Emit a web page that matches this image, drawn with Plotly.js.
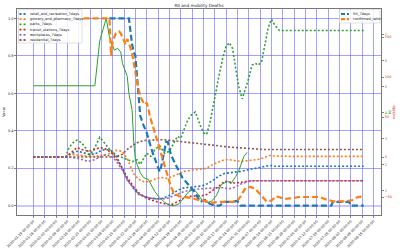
<!DOCTYPE html>
<html><head><meta charset="utf-8">
<script src="https://cdn.plot.ly/plotly-3.0.1.min.js"></script>
<style>html,body{margin:0;padding:0;background:#fff}#chart{width:400px;height:250px}</style>
</head><body><div id="chart"></div>
<script>
// ---------- data ----------
const mobilityDates = ['2020-01-19','2020-02-08','2020-02-11','2020-02-15','2020-02-18','2020-02-22','2020-02-26','2020-02-29','2020-03-03','2020-03-07','2020-03-10','2020-03-14','2020-03-17','2020-03-21','2020-03-24','2020-03-28','2020-03-31','2020-04-04','2020-04-07','2020-04-11','2020-04-14','2020-04-18','2020-04-21','2020-04-25','2020-04-28','2020-05-02','2020-05-05','2020-05-09','2020-05-12','2020-05-16','2020-05-19','2020-05-23','2020-05-26','2020-05-30','2020-06-02','2020-06-06','2020-06-09','2020-06-13','2020-06-16','2020-06-20','2020-06-27','2020-07-11','2020-07-25','2020-08-10'];
const retail = [0.26,0.26,0.275,0.29,0.285,0.275, 0.275,0.29,0.30,0.295,0.27,0.19, 0.14,0.09,0.06,0.048,0.04,0.037, 0.037,0.05,0.065,0.085,0.095,0.10, 0.102,0.105,0.115,0.135,0.155,0.172, 0.175,0.178,0.183,0.19,0.195,0.20, 0.205,0.215,0.21,0.21,0.21,0.21, 0.21,0.21];
const grocery = [0.26,0.26,0.275,0.27,0.265,0.263, 0.263,0.265,0.27,0.28,0.295,0.29, 0.25,0.17,0.14,0.125,0.13,0.145, 0.15,0.145,0.155,0.17,0.183,0.19, 0.192,0.195,0.20,0.22,0.232,0.245, 0.245,0.238,0.236,0.24,0.243,0.247, 0.255,0.268,0.265,0.263,0.263,0.263, 0.263,0.263];
const transit = [0.26,0.26,0.28,0.31,0.30,0.29, 0.30,0.31,0.305,0.285,0.255,0.20, 0.15,0.10,0.07,0.045,0.032,0.02, 0.014,0.006,0.008,0.025,0.04,0.05, 0.052,0.053,0.06,0.085,0.10,0.13, 0.125,0.12,0.125,0.13,0.133,0.133, 0.133,0.133,0.133,0.133,0.133,0.133, 0.133,0.133];
const workplaces = [0.26,0.26,0.258,0.254,0.245,0.236, 0.245,0.26,0.27,0.265,0.24,0.19, 0.135,0.09,0.062,0.048,0.04,0.036, 0.035,0.04,0.05,0.066,0.075,0.083, 0.088,0.09,0.092,0.094,0.096,0.095, 0.09,0.10,0.115,0.128,0.133,0.133, 0.133,0.133,0.133,0.133,0.133,0.133, 0.133,0.133];
const residential = [0.26,0.26,0.26,0.26,0.26,0.26, 0.26,0.26,0.26,0.26,0.26,0.275, 0.30,0.325,0.34,0.348,0.35,0.352, 0.352,0.35,0.347,0.343,0.34,0.335, 0.33,0.327,0.325,0.322,0.32,0.316, 0.313,0.31,0.308,0.305,0.303,0.302, 0.30,0.30,0.30,0.30,0.30,0.30, 0.30,0.30];

const parksDates = ['2020-01-19','2020-02-08','2020-02-10','2020-02-13','2020-02-15','2020-02-18','2020-02-21','2020-02-23','2020-02-26','2020-02-29','2020-03-03','2020-03-06','2020-03-09','2020-03-13','2020-03-17','2020-03-20','2020-03-23','2020-03-25','2020-03-27','2020-03-29','2020-04-01','2020-04-03','2020-04-06','2020-04-09','2020-04-12','2020-04-15','2020-04-17','2020-04-19','2020-04-21','2020-04-23','2020-04-25','2020-04-28','2020-05-01','2020-05-03','2020-05-05','2020-05-07','2020-05-09','2020-05-11','2020-05-13','2020-05-15','2020-05-17','2020-05-19','2020-05-21','2020-05-23','2020-05-25','2020-05-27','2020-05-29','2020-05-31','2020-06-02','2020-06-04','2020-06-06','2020-06-08','2020-06-10','2020-06-12','2020-06-14','2020-06-16','2020-06-19','2020-08-10'];
const parks = [0.26,0.26,0.31,0.34,0.35, 0.334,0.30,0.27,0.31,0.365, 0.334,0.30,0.27,0.26,0.245, 0.235,0.245,0.22,0.25,0.28, 0.26,0.30,0.32,0.28,0.29, 0.34,0.37,0.36,0.41,0.45, 0.48,0.50,0.43,0.39,0.38, 0.44,0.53,0.63,0.71,0.79, 0.85,0.87,0.84,0.73,0.63, 0.57,0.62,0.68,0.75,0.76, 0.75,0.77,0.86,0.95,0.995, 0.965,0.935,0.935];

const deathsDates = ['2020-01-19','2020-02-26','2020-02-29','2020-03-02','2020-03-04','2020-03-06','2020-03-08','2020-03-09','2020-03-11','2020-03-13','2020-03-14','2020-03-15','2020-03-17','2020-03-18','2020-03-20','2020-03-21','2020-03-22','2020-03-25','2020-03-27','2020-03-30','2020-04-01','2020-04-03','2020-04-06','2020-04-09','2020-04-12','2020-04-15','2020-04-18','2020-04-21','2020-04-24','2020-04-27','2020-04-29','2020-05-02','2020-05-05','2020-05-08','2020-05-11','2020-05-14','2020-05-18','2020-05-20','2020-05-23','2020-05-25','2020-05-28','2020-05-30'];
const deaths = [0.64,0.64,0.88,0.94,1.0,0.90,0.855,0.83,0.84,0.82, 0.76,0.735,0.69,0.60,0.51,0.34,0.245,0.176,0.15,0.14, 0.11,0.075,0.043,0.018,0.002,0.0,0.01,0.043,0.075,0.085, 0.07,0.03,0.016,0.023,0.053,0.112,0.13,0.117,0.156,0.19, 0.263,0.284];

const r0Dates = ['2020-03-06','2020-03-18','2020-03-20','2020-03-21','2020-03-22','2020-03-23','2020-03-24','2020-03-25','2020-03-27','2020-03-29','2020-04-01','2020-04-04','2020-04-06','2020-04-07','2020-04-10','2020-04-11','2020-04-13','2020-04-17','2020-04-20','2020-04-24','2020-04-28','2020-05-01','2020-05-04','2020-05-07','2020-05-10','2020-05-13','2020-05-16','2020-05-20','2020-05-24','2020-05-26','2020-07-21','2020-07-22','2020-08-01','2020-08-02','2020-08-10'];
const r0 = [1.0,1.0,0.86,0.82,0.80,0.70,0.58,0.48,0.43,0.39, 0.30,0.23,0.18,0.21,0.34,0.34,0.27,0.20,0.15,0.11, 0.068,0.02,0.03,0.01,0.0,0.0,0.02,0.02,0.025,0.0, 0.0,0.02,0.02,0.0,0.0];

const confirmedDates = ['2020-02-19','2020-03-06','2020-03-07','2020-03-08','2020-03-10','2020-03-12','2020-03-13','2020-03-15','2020-03-16','2020-03-17','2020-03-18','2020-03-20','2020-03-21','2020-03-22','2020-03-23','2020-03-24','2020-03-25','2020-03-26','2020-03-28','2020-03-29','2020-03-30','2020-03-31','2020-04-03','2020-04-05','2020-04-07','2020-04-09','2020-04-11','2020-04-13','2020-04-15','2020-04-18','2020-04-22','2020-04-26','2020-04-30','2020-05-04','2020-05-08','2020-05-12','2020-05-17','2020-05-21','2020-05-24','2020-05-26','2020-05-29','2020-06-01','2020-06-04','2020-06-07','2020-06-09','2020-06-11','2020-06-14','2020-06-17','2020-06-19','2020-06-22','2020-06-27','2020-07-01','2020-07-06','2020-07-10','2020-07-14','2020-07-18','2020-07-22','2020-07-30','2020-08-03','2020-08-06','2020-08-08','2020-08-10'];
const confirmed = [1.0,1.0,0.80,0.88,0.92,0.93,0.92,0.885,0.86,0.89, 0.87,0.81,0.76,0.716,0.66,0.62,0.59,0.565,0.54,0.55, 0.52,0.476,0.39,0.33,0.27,0.21,0.15,0.10,0.065,0.05, 0.045,0.04,0.03,0.025,0.015,0.02,0.02,0.02,0.025,0.05, 0.095,0.10,0.09,0.06,0.037,0.023,0.027,0.05,0.045,0.036, 0.04,0.046,0.046,0.046,0.046,0.032,0.023,0.023,0.03,0.045, 0.048,0.045];

const xTickDates = ['2020-01-19','2020-01-26','2020-02-02','2020-02-09','2020-02-16','2020-02-23','2020-03-01','2020-03-08','2020-03-15','2020-03-22','2020-03-29','2020-04-05','2020-04-12','2020-04-19','2020-04-26','2020-05-03','2020-05-10','2020-05-17','2020-05-24','2020-05-31','2020-06-07','2020-06-14','2020-06-21','2020-06-28','2020-07-05','2020-07-12','2020-07-19','2020-07-26','2020-08-02','2020-08-09','2020-08-16'];
const xTickLabels = xTickDates.map(d => d + ' 00:00:00');
const yTickVals = [0.0,0.2,0.4,0.6,0.8,1.0];
const r0AxisTicks = [1,2,3,4,5,6,7];
const r0AxisRange = [0.08, 7.97];
const mobilityAxisTicks = [-50,0,50,100,150];
const mobilityAxisRange = [-72.5, 185];

const mobilityNames = ['retail_and_recreation_7days','grocery_and_pharmacy_7days','parks_7days','transit_stations_7days','workplaces_7days','residential_7days'];
const mobilityColors = ['#1f77b4','#ff7f0e','#2ca02c','#d62728','#9467bd','#8c564b'];
const rightNames = ['R0_7days','confirmed_ratio'];
const rightColors = ['#1f77b4','#ff7f0e'];

// ---------- traces ----------
const mobilitySeries = [
  {x: mobilityDates, y: retail},
  {x: mobilityDates, y: grocery},
  {x: parksDates, y: parks},
  {x: mobilityDates, y: transit},
  {x: mobilityDates, y: workplaces},
  {x: mobilityDates, y: residential}
];
const traces = mobilitySeries.map((s, i) => ({
  type: 'scatter', mode: 'lines', x: s.x, y: s.y, name: mobilityNames[i],
  line: {color: mobilityColors[i], width: 1.6, dash: '2px,2px'}, showlegend: false
}));
traces.push({type: 'scatter', mode: 'lines', x: deathsDates, y: deaths, name: 'Deaths',
  line: {color: '#2ca02c', width: 1}, showlegend: false});
traces.push({type: 'scatter', mode: 'lines', x: r0Dates, y: r0, name: rightNames[0],
  line: {color: rightColors[0], width: 2.2, dash: '6px,3px'}, showlegend: false});
traces.push({type: 'scatter', mode: 'lines', x: confirmedDates, y: confirmed, name: rightNames[1],
  line: {color: rightColors[1], width: 2.2, dash: '6px,3px'}, showlegend: false});
// twin right axes (scales only, no marks)
traces.push({type: 'scatter', mode: 'lines', x: [], y: [], yaxis: 'y2', showlegend: false, hoverinfo: 'skip'});
traces.push({type: 'scatter', mode: 'lines', x: [], y: [], yaxis: 'y3', showlegend: false, hoverinfo: 'skip'});

// ---------- layout helpers (pixel -> paper) ----------
const ML = 17, MT = 9, PW = 364, PH = 206;
const px = x => (x - ML) / PW;
const py = y => 1 - (y - MT) / PH;
const FS = 3.5;
const FONT = 'DejaVu Sans, sans-serif';
const GRID = 'rgba(70,70,255,0.5)';

const shapes = [];
const annotations = [];
// legend 1 (upper left)
shapes.push({type: 'rect', xref: 'paper', yref: 'paper', x0: px(18.5), x1: px(82), y0: py(43), y1: py(9.6),
  line: {color: '#cccccc', width: 0.6}, fillcolor: 'rgba(255,255,255,0.85)', layer: 'above'});
mobilityNames.forEach((n, i) => {
  const yy = 14 + i * 5.2;
  shapes.push({type: 'line', xref: 'paper', yref: 'paper', x0: px(19.5), x1: px(26), y0: py(yy), y1: py(yy),
    line: {color: mobilityColors[i], width: 1.8, dash: '2px,2px'}, layer: 'above'});
  annotations.push({xref: 'paper', yref: 'paper', x: px(29), y: py(yy), xanchor: 'left', yanchor: 'middle',
    text: n, showarrow: false, borderpad: 0, font: {size: FS, family: FONT, color: '#222'}});
});
// legend 2 (upper right)
shapes.push({type: 'rect', xref: 'paper', yref: 'paper', x0: px(339.5), x1: px(380), y0: py(23), y1: py(9.6),
  line: {color: '#cccccc', width: 0.6}, fillcolor: 'rgba(255,255,255,0.85)', layer: 'above'});
rightNames.forEach((n, i) => {
  const yy = 14 + i * 5.2;
  shapes.push({type: 'line', xref: 'paper', yref: 'paper', x0: px(341), x1: px(349), y0: py(yy), y1: py(yy),
    line: {color: rightColors[i], width: 2.2, dash: '4px,2px'}, layer: 'above'});
  annotations.push({xref: 'paper', yref: 'paper', x: px(351.5), y: py(yy), xanchor: 'left', yanchor: 'middle',
    text: n, showarrow: false, borderpad: 0, font: {size: FS, family: FONT, color: '#222'}});
});

const layout = {
  width: 400, height: 250,
  margin: {l: ML, r: 19, t: MT, b: 35, pad: 0},
  paper_bgcolor: '#fff', plot_bgcolor: '#fff',
  font: {family: FONT, size: FS, color: '#222'},
  showlegend: false,
  title: {text: 'R0 and mobility Deaths', font: {size: 4.2, family: FONT, color: '#222'},
    x: 0.5, xref: 'paper', xanchor: 'center', y: 1 - 5.5 / 250, yanchor: 'middle'},
  xaxis: {type: 'date', range: ['2020-01-08 22:00', '2020-08-20 16:00'],
    tickmode: 'array', tickvals: xTickDates, ticktext: xTickLabels, tickangle: -45,
    tickfont: {size: FS, family: FONT, color: '#222'},
    ticks: 'outside', ticklen: 2, tickwidth: 0.6, tickcolor: '#333',
    showgrid: true, gridcolor: GRID, gridwidth: 1,
    showline: true, linecolor: '#555', linewidth: 0.8, mirror: true, zeroline: false, automargin: false},
  yaxis: {range: [-0.05, 1.05], tickmode: 'array', tickvals: yTickVals, tickformat: '.1f',
    tickfont: {size: FS, family: FONT, color: '#222'},
    ticks: 'outside', ticklen: 2, tickwidth: 0.6, tickcolor: '#333',
    showgrid: true, gridcolor: GRID, gridwidth: 1,
    zeroline: true, zerolinecolor: 'rgba(120,120,255,0.4)', zerolinewidth: 2,
    showline: true, linecolor: '#555', linewidth: 0.8, mirror: true, automargin: false,
    title: {text: 'Value', font: {size: FS, family: FONT, color: '#222'}, standoff: 2}},
  yaxis2: {overlaying: 'y', side: 'right', anchor: 'x', range: r0AxisRange,
    tickmode: 'array', tickvals: r0AxisTicks, showgrid: false, zeroline: false, showline: false,
    ticks: 'outside', ticklen: 2, tickwidth: 0.6, tickcolor: '#333',
    tickfont: {size: FS, family: FONT, color: '#2ca02c'}, automargin: false,
    title: {text: 'R0', font: {size: FS, family: FONT, color: '#2ca02c'}, standoff: 1}},
  yaxis3: {overlaying: 'y', side: 'right', anchor: 'x', range: mobilityAxisRange,
    tickmode: 'array', tickvals: mobilityAxisTicks, showgrid: false, zeroline: false, showline: false,
    ticks: 'outside', ticklen: 2, tickwidth: 0.6, tickcolor: '#333',
    tickfont: {size: FS, family: FONT, color: '#e03030'}, automargin: false,
    title: {text: 'mobility', font: {size: FS, family: FONT, color: '#e03030'}, standoff: 1}},
  shapes: shapes,
  annotations: annotations
};

Plotly.newPlot('chart', traces, layout, {staticPlot: true, displayModeBar: false});
</script>
</body></html>
